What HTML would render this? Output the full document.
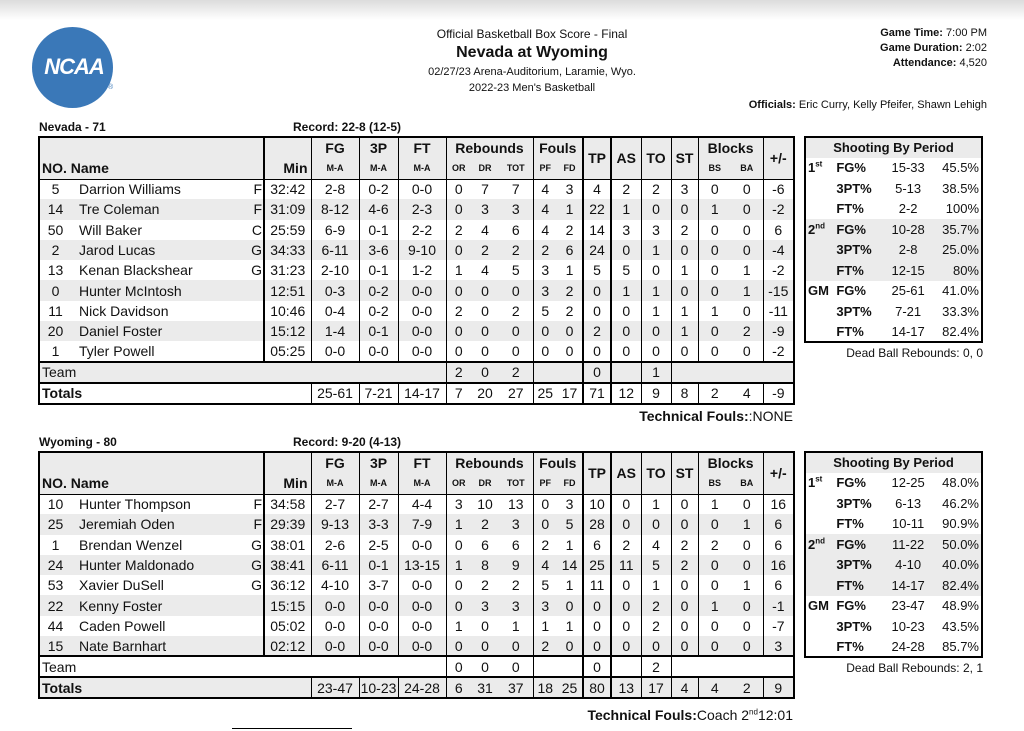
<!DOCTYPE html>
<html><head><meta charset="utf-8">
<style>
*{margin:0;padding:0;box-sizing:border-box}
body{width:1024px;height:731px;position:relative;background:#fff;font-family:"Liberation Sans",Arial,sans-serif;color:#111;overflow:hidden}
.topbar{position:absolute;left:0;top:0;width:1024px;height:20px;background:linear-gradient(#dcdcdc,#fff)}
.abs{position:absolute;white-space:nowrap}
table.bs{position:absolute;left:38px;width:755px;border-collapse:collapse;table-layout:fixed;border:2px solid #000;font-size:14px}
table.bs td{padding:0;text-align:center;white-space:nowrap;overflow:hidden;height:20.3px;line-height:18px}
table.bs tr.g td{background:#ebebeb}
table.bs tr.h td{background:#ebebeb;font-weight:bold;height:21px}
.sub{font-size:9px}
.p td:nth-child(3){border-left:2px solid #000}
.p td:nth-child(4),.p td:nth-child(5),.p td:nth-child(6),.p td:nth-child(7),.p td:nth-child(10),.p td:nth-child(14),.p td:nth-child(15),.p td:nth-child(16),.p td:nth-child(18){border-left:1px solid #000}
.p td:nth-child(12),.p td:nth-child(13){border-left:2px solid #000}
td.bl{border-left:1px solid #000}
td.bl2{border-left:2px solid #000}
tr.bt td{border-top:2px solid #000}
tr.bt1 td{border-top:1px solid #000}
td.nm{text-align:left!important;padding-left:8px!important}
td.pos{position:relative}
.ps{float:right;margin-right:1px}
table.sh{position:absolute;left:804px;width:179px;border-collapse:collapse;border:2px solid #000;font-size:13px;table-layout:fixed}
table.sh td{height:20.5px;padding:0;white-space:nowrap}
table.sh tr.g td{background:#ebebeb}
table.sh b{font-weight:bold}
sup{font-size:8px;line-height:0}
</style></head><body>
<div class="topbar"></div>
<div class="abs" style="left:32px;top:27px;width:81px;height:81px;border-radius:50%;background:#3a78b8"></div>
<div class="abs" style="left:38px;top:54px;width:72px;text-align:center;color:#fff;font-weight:bold;font-style:italic;font-size:22px;letter-spacing:-1px;font-family:'Liberation Sans',sans-serif">NCAA</div>
<div class="abs" style="left:108px;top:84px;font-size:7px;color:#3a78b8">®</div>

<div class="abs" style="left:0;width:1064px;text-align:center;top:27px;font-size:12px">Official Basketball Box Score - Final</div>
<div class="abs" style="left:0;width:1064px;text-align:center;top:44px;font-size:16px;font-weight:bold">Nevada at Wyoming</div>
<div class="abs" style="left:0;width:1064px;text-align:center;top:66px;font-size:11px">02/27/23 Arena-Auditorium, Laramie, Wyo.</div>
<div class="abs" style="left:0;width:1064px;text-align:center;top:82px;font-size:11px">2022-23 Men's Basketball</div>
<div class="abs" style="right:37px;top:26px;font-size:11px;text-align:right;line-height:15px"><b>Game Time:</b> 7:00 PM<br><b>Game Duration:</b> 2:02<br><b>Attendance:</b> 4,520</div>
<div class="abs" style="right:37px;top:99px;font-size:11px"><b>Officials:</b> Eric Curry, Kelly Pfeifer, Shawn Lehigh</div>

<div class="abs" style="left:39px;top:120px;font-size:12px;font-weight:bold">Nevada - 71</div>
<div class="abs" style="left:293px;top:120px;font-size:12px;font-weight:bold">Record: 22-8 (12-5)</div>

<table class="bs" style="top:136px">
<colgroup><col style="width:32px"><col style="width:193px"><col style="width:47px"><col style="width:48px"><col style="width:39px"><col style="width:48px"><col style="width:25px"><col style="width:28px"><col style="width:34px"><col style="width:24px"><col style="width:26px"><col style="width:28px"><col style="width:30px"><col style="width:30px"><col style="width:27px"><col style="width:33px"><col style="width:32px"><col style="width:31px"></colgroup>
<tr class="h"><td colspan="2"></td><td class="bl2"></td><td class="bl">FG</td><td class="bl">3P</td><td class="bl">FT</td><td colspan="3" class="bl">Rebounds</td><td colspan="2" class="bl">Fouls</td><td rowspan="2" class="bl2">TP</td><td rowspan="2" class="bl2">AS</td><td rowspan="2" class="bl">TO</td><td rowspan="2" class="bl">ST</td><td colspan="2" class="bl">Blocks</td><td rowspan="2" class="bl">+/-</td></tr>
<tr class="h"><td colspan="2" style="text-align:left;padding-left:2px">NO. Name</td><td class="bl2" style="text-align:right;padding-right:3px">Min</td><td class="bl sub">M-A</td><td class="bl sub">M-A</td><td class="bl sub">M-A</td><td class="bl sub">OR</td><td class="sub">DR</td><td class="sub">TOT</td><td class="bl sub">PF</td><td class="sub">FD</td><td class="bl sub">BS</td><td class="sub">BA</td></tr>
<tr class="p bt1"><td>5</td><td class="nm pos">Darrion Williams<span class="ps">F</span></td><td>32:42</td><td>2-8</td><td>0-2</td><td>0-0</td><td>0</td><td>7</td><td>7</td><td>4</td><td>3</td><td>4</td><td>2</td><td>2</td><td>3</td><td>0</td><td>0</td><td>-6</td></tr>
<tr class="p g"><td>14</td><td class="nm pos">Tre Coleman<span class="ps">F</span></td><td>31:09</td><td>8-12</td><td>4-6</td><td>2-3</td><td>0</td><td>3</td><td>3</td><td>4</td><td>1</td><td>22</td><td>1</td><td>0</td><td>0</td><td>1</td><td>0</td><td>-2</td></tr>
<tr class="p"><td>50</td><td class="nm pos">Will Baker<span class="ps">C</span></td><td>25:59</td><td>6-9</td><td>0-1</td><td>2-2</td><td>2</td><td>4</td><td>6</td><td>4</td><td>2</td><td>14</td><td>3</td><td>3</td><td>2</td><td>0</td><td>0</td><td>6</td></tr>
<tr class="p g"><td>2</td><td class="nm pos">Jarod Lucas<span class="ps">G</span></td><td>34:33</td><td>6-11</td><td>3-6</td><td>9-10</td><td>0</td><td>2</td><td>2</td><td>2</td><td>6</td><td>24</td><td>0</td><td>1</td><td>0</td><td>0</td><td>0</td><td>-4</td></tr>
<tr class="p"><td>13</td><td class="nm pos">Kenan Blackshear<span class="ps">G</span></td><td>31:23</td><td>2-10</td><td>0-1</td><td>1-2</td><td>1</td><td>4</td><td>5</td><td>3</td><td>1</td><td>5</td><td>5</td><td>0</td><td>1</td><td>0</td><td>1</td><td>-2</td></tr>
<tr class="p g"><td>0</td><td class="nm">Hunter McIntosh</td><td>12:51</td><td>0-3</td><td>0-2</td><td>0-0</td><td>0</td><td>0</td><td>0</td><td>3</td><td>2</td><td>0</td><td>1</td><td>1</td><td>0</td><td>0</td><td>1</td><td>-15</td></tr>
<tr class="p"><td>11</td><td class="nm">Nick Davidson</td><td>10:46</td><td>0-4</td><td>0-2</td><td>0-0</td><td>2</td><td>0</td><td>2</td><td>5</td><td>2</td><td>0</td><td>0</td><td>1</td><td>1</td><td>1</td><td>0</td><td>-11</td></tr>
<tr class="p g"><td>20</td><td class="nm">Daniel Foster</td><td>15:12</td><td>1-4</td><td>0-1</td><td>0-0</td><td>0</td><td>0</td><td>0</td><td>0</td><td>0</td><td>2</td><td>0</td><td>0</td><td>1</td><td>0</td><td>2</td><td>-9</td></tr>
<tr class="p"><td>1</td><td class="nm">Tyler Powell</td><td>05:25</td><td>0-0</td><td>0-0</td><td>0-0</td><td>0</td><td>0</td><td>0</td><td>0</td><td>0</td><td>0</td><td>0</td><td>0</td><td>0</td><td>0</td><td>0</td><td>-2</td></tr>
<tr class="g bt"><td colspan="6" style="text-align:left;padding-left:2px;height:21px">Team</td><td class="bl">2</td><td>0</td><td>2</td><td colspan="2" class="bl"></td><td class="bl2">0</td><td class="bl2"></td><td class="bl">1</td><td colspan="4" class="bl"></td></tr>
<tr class="bt"><td colspan="3" style="text-align:left;padding-left:2px;font-weight:bold;height:21px">Totals</td><td class="bl">25-61</td><td class="bl">7-21</td><td class="bl">14-17</td><td class="bl">7</td><td>20</td><td>27</td><td class="bl">25</td><td>17</td><td class="bl2">71</td><td class="bl2">12</td><td class="bl">9</td><td class="bl">8</td><td class="bl">2</td><td>4</td><td class="bl">-9</td></tr>
</table>
<div class="abs" style="right:231px;top:408px;font-size:14px"><b>Technical Fouls:</b>:NONE</div>

<table class="sh" style="top:136px">
<colgroup><col style="width:31px"><col style="width:47px"><col style="width:48px"><col style="width:49px"></colgroup>
<tr class="g"><td colspan="4" style="text-align:center;font-weight:bold">Shooting By Period</td></tr>
<tr><td style="padding-left:2px"><b>1<sup>st</sup></b></td><td><b>FG%</b></td><td style="text-align:center">15-33</td><td style="text-align:right;padding-right:2px">45.5%</td></tr>
<tr><td></td><td><b>3PT%</b></td><td style="text-align:center">5-13</td><td style="text-align:right;padding-right:2px">38.5%</td></tr>
<tr><td></td><td><b>FT%</b></td><td style="text-align:center">2-2</td><td style="text-align:right;padding-right:2px">100%</td></tr>
<tr class="g"><td style="padding-left:2px"><b>2<sup>nd</sup></b></td><td><b>FG%</b></td><td style="text-align:center">10-28</td><td style="text-align:right;padding-right:2px">35.7%</td></tr>
<tr class="g"><td></td><td><b>3PT%</b></td><td style="text-align:center">2-8</td><td style="text-align:right;padding-right:2px">25.0%</td></tr>
<tr class="g"><td></td><td><b>FT%</b></td><td style="text-align:center">12-15</td><td style="text-align:right;padding-right:2px">80%</td></tr>
<tr><td style="padding-left:2px"><b>GM</b></td><td><b>FG%</b></td><td style="text-align:center">25-61</td><td style="text-align:right;padding-right:2px">41.0%</td></tr>
<tr><td></td><td><b>3PT%</b></td><td style="text-align:center">7-21</td><td style="text-align:right;padding-right:2px">33.3%</td></tr>
<tr><td></td><td><b>FT%</b></td><td style="text-align:center">14-17</td><td style="text-align:right;padding-right:2px">82.4%</td></tr>
</table>
<div class="abs" style="right:41px;top:346px;font-size:12px">Dead Ball Rebounds: 0, 0</div>

<div class="abs" style="left:39px;top:435px;font-size:12px;font-weight:bold">Wyoming - 80</div>
<div class="abs" style="left:293px;top:435px;font-size:12px;font-weight:bold">Record: 9-20 (4-13)</div>

<table class="bs" style="top:451px">
<colgroup><col style="width:32px"><col style="width:193px"><col style="width:47px"><col style="width:48px"><col style="width:39px"><col style="width:48px"><col style="width:25px"><col style="width:28px"><col style="width:34px"><col style="width:24px"><col style="width:26px"><col style="width:28px"><col style="width:30px"><col style="width:30px"><col style="width:27px"><col style="width:33px"><col style="width:32px"><col style="width:31px"></colgroup>
<tr class="h"><td colspan="2"></td><td class="bl2"></td><td class="bl">FG</td><td class="bl">3P</td><td class="bl">FT</td><td colspan="3" class="bl">Rebounds</td><td colspan="2" class="bl">Fouls</td><td rowspan="2" class="bl2">TP</td><td rowspan="2" class="bl2">AS</td><td rowspan="2" class="bl">TO</td><td rowspan="2" class="bl">ST</td><td colspan="2" class="bl">Blocks</td><td rowspan="2" class="bl">+/-</td></tr>
<tr class="h"><td colspan="2" style="text-align:left;padding-left:2px">NO. Name</td><td class="bl2" style="text-align:right;padding-right:3px">Min</td><td class="bl sub">M-A</td><td class="bl sub">M-A</td><td class="bl sub">M-A</td><td class="bl sub">OR</td><td class="sub">DR</td><td class="sub">TOT</td><td class="bl sub">PF</td><td class="sub">FD</td><td class="bl sub">BS</td><td class="sub">BA</td></tr>
<tr class="p bt1"><td>10</td><td class="nm pos">Hunter Thompson<span class="ps">F</span></td><td>34:58</td><td>2-7</td><td>2-7</td><td>4-4</td><td>3</td><td>10</td><td>13</td><td>0</td><td>3</td><td>10</td><td>0</td><td>1</td><td>0</td><td>1</td><td>0</td><td>16</td></tr>
<tr class="p g"><td>25</td><td class="nm pos">Jeremiah Oden<span class="ps">F</span></td><td>29:39</td><td>9-13</td><td>3-3</td><td>7-9</td><td>1</td><td>2</td><td>3</td><td>0</td><td>5</td><td>28</td><td>0</td><td>0</td><td>0</td><td>0</td><td>1</td><td>6</td></tr>
<tr class="p"><td>1</td><td class="nm pos">Brendan Wenzel<span class="ps">G</span></td><td>38:01</td><td>2-6</td><td>2-5</td><td>0-0</td><td>0</td><td>6</td><td>6</td><td>2</td><td>1</td><td>6</td><td>2</td><td>4</td><td>2</td><td>2</td><td>0</td><td>6</td></tr>
<tr class="p g"><td>24</td><td class="nm pos">Hunter Maldonado<span class="ps">G</span></td><td>38:41</td><td>6-11</td><td>0-1</td><td>13-15</td><td>1</td><td>8</td><td>9</td><td>4</td><td>14</td><td>25</td><td>11</td><td>5</td><td>2</td><td>0</td><td>0</td><td>16</td></tr>
<tr class="p"><td>53</td><td class="nm pos">Xavier DuSell<span class="ps">G</span></td><td>36:12</td><td>4-10</td><td>3-7</td><td>0-0</td><td>0</td><td>2</td><td>2</td><td>5</td><td>1</td><td>11</td><td>0</td><td>1</td><td>0</td><td>0</td><td>1</td><td>6</td></tr>
<tr class="p g"><td>22</td><td class="nm">Kenny Foster</td><td>15:15</td><td>0-0</td><td>0-0</td><td>0-0</td><td>0</td><td>3</td><td>3</td><td>3</td><td>0</td><td>0</td><td>0</td><td>2</td><td>0</td><td>1</td><td>0</td><td>-1</td></tr>
<tr class="p"><td>44</td><td class="nm">Caden Powell</td><td>05:02</td><td>0-0</td><td>0-0</td><td>0-0</td><td>1</td><td>0</td><td>1</td><td>1</td><td>1</td><td>0</td><td>0</td><td>2</td><td>0</td><td>0</td><td>0</td><td>-7</td></tr>
<tr class="p g"><td>15</td><td class="nm">Nate Barnhart</td><td>02:12</td><td>0-0</td><td>0-0</td><td>0-0</td><td>0</td><td>0</td><td>0</td><td>2</td><td>0</td><td>0</td><td>0</td><td>0</td><td>0</td><td>0</td><td>0</td><td>3</td></tr>
<tr class="bt"><td colspan="6" style="text-align:left;padding-left:2px;height:21px">Team</td><td class="bl">0</td><td>0</td><td>0</td><td colspan="2" class="bl"></td><td class="bl2">0</td><td class="bl2"></td><td class="bl">2</td><td colspan="4" class="bl"></td></tr>
<tr class="g bt"><td colspan="3" style="text-align:left;padding-left:2px;font-weight:bold;height:21px">Totals</td><td class="bl">23-47</td><td class="bl">10-23</td><td class="bl">24-28</td><td class="bl">6</td><td>31</td><td>37</td><td class="bl">18</td><td>25</td><td class="bl2">80</td><td class="bl2">13</td><td class="bl">17</td><td class="bl">4</td><td class="bl">4</td><td>2</td><td class="bl">9</td></tr>
</table>
<div class="abs" style="right:231px;top:707px;font-size:14px"><b>Technical Fouls:</b>Coach 2<sup>nd</sup>12:01</div>

<table class="sh" style="top:451px">
<colgroup><col style="width:31px"><col style="width:47px"><col style="width:48px"><col style="width:49px"></colgroup>
<tr class="g"><td colspan="4" style="text-align:center;font-weight:bold">Shooting By Period</td></tr>
<tr><td style="padding-left:2px"><b>1<sup>st</sup></b></td><td><b>FG%</b></td><td style="text-align:center">12-25</td><td style="text-align:right;padding-right:2px">48.0%</td></tr>
<tr><td></td><td><b>3PT%</b></td><td style="text-align:center">6-13</td><td style="text-align:right;padding-right:2px">46.2%</td></tr>
<tr><td></td><td><b>FT%</b></td><td style="text-align:center">10-11</td><td style="text-align:right;padding-right:2px">90.9%</td></tr>
<tr class="g"><td style="padding-left:2px"><b>2<sup>nd</sup></b></td><td><b>FG%</b></td><td style="text-align:center">11-22</td><td style="text-align:right;padding-right:2px">50.0%</td></tr>
<tr class="g"><td></td><td><b>3PT%</b></td><td style="text-align:center">4-10</td><td style="text-align:right;padding-right:2px">40.0%</td></tr>
<tr class="g"><td></td><td><b>FT%</b></td><td style="text-align:center">14-17</td><td style="text-align:right;padding-right:2px">82.4%</td></tr>
<tr><td style="padding-left:2px"><b>GM</b></td><td><b>FG%</b></td><td style="text-align:center">23-47</td><td style="text-align:right;padding-right:2px">48.9%</td></tr>
<tr><td></td><td><b>3PT%</b></td><td style="text-align:center">10-23</td><td style="text-align:right;padding-right:2px">43.5%</td></tr>
<tr><td></td><td><b>FT%</b></td><td style="text-align:center">24-28</td><td style="text-align:right;padding-right:2px">85.7%</td></tr>
</table>
<div class="abs" style="right:41px;top:661px;font-size:12px">Dead Ball Rebounds: 2, 1</div>
<div class="abs" style="left:232px;top:728px;width:120px;height:1px;background:#000"></div>
</body></html>
